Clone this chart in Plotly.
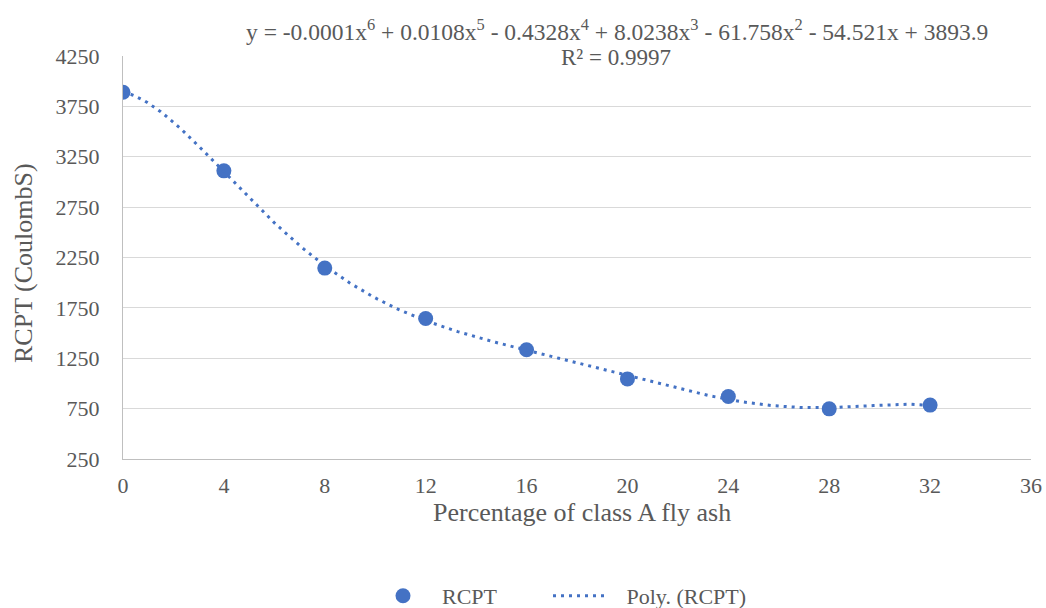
import numpy as np
import plotly.graph_objects as go

fly_ash_pct = [0, 4, 8, 12, 16, 20, 24, 28, 32]
rcpt = [3890, 3110, 2145, 1645, 1335, 1045, 870, 748, 785]
x_ticks = [0, 4, 8, 12, 16, 20, 24, 28, 32, 36]
y_ticks = [250, 750, 1250, 1750, 2250, 2750, 3250, 3750, 4250]

# 6th-order polynomial trendline fitted to the data (as Excel does)
coef = np.polyfit(fly_ash_pct, rcpt, 6)
xs = np.linspace(min(fly_ash_pct), max(fly_ash_pct), 300)
ys = np.polyval(coef, xs)

blue = "#4472C4"
gray = "#595959"
font = "Liberation Serif, Times New Roman, serif"

fig = go.Figure()
fig.add_trace(go.Scatter(x=fly_ash_pct, y=rcpt, mode="markers", name="RCPT",
                         marker=dict(color=blue, size=15), legend="legend"))
fig.add_trace(go.Scatter(x=xs, y=ys, mode="lines", name="&nbsp;&nbsp;&nbsp;Poly. (RCPT)",
                         line=dict(color=blue, width=3, dash="3px,5px"), legend="legend2"))

L, R, T, B = 123, 15, 56, 149
PH = 403.0  # plot height in px
PW = 908.0  # plot width in px

leg_y = -(596 - 459) / PH

fig.update_layout(
    width=1046, height=608,
    paper_bgcolor="white", plot_bgcolor="white",
    margin=dict(l=L, r=R, t=T, b=B, autoexpand=False),
    font=dict(family=font, size=22, color=gray),
    showlegend=True,
    legend=dict(orientation="h", x=(364 - 123) / PW, xanchor="left", y=leg_y,
                yanchor="middle", itemwidth=68, bgcolor="rgba(0,0,0,0)",
                font=dict(size=22, color=gray, family=font)),
    legend2=dict(orientation="h", x=(548 - 123) / PW, xanchor="left", y=leg_y,
                 yanchor="middle", itemwidth=52, bgcolor="rgba(0,0,0,0)",
                 font=dict(size=22, color=gray, family=font)),
    xaxis=dict(range=[0, 36], tickvals=x_ticks, showgrid=False, zeroline=False,
               showline=True, linecolor="#bfbfbf", linewidth=1, automargin=False,
               ticks="", ticklabelstandoff=7,
               tickfont=dict(size=22, color=gray, family=font)),
    yaxis=dict(range=[250, 4250], tickvals=y_ticks, showgrid=True, gridcolor="#d9d9d9",
               gridwidth=1, zeroline=False, showline=True, linecolor="#bfbfbf",
               linewidth=1, automargin=False, ticks="", ticklabelstandoff=18,
               tickfont=dict(size=22, color=gray, family=font)),
    annotations=[
        dict(text="y = -0.0001x<sup>6</sup> + 0.0108x<sup>5</sup> - 0.4328x<sup>4</sup> + 8.0238x<sup>3</sup> - 61.758x<sup>2</sup> - 54.521x + 3893.9",
             xref="paper", yref="paper", x=(617 - 123) / PW, y=1 + (56 - 30) / PH,
             xanchor="center", yanchor="middle", showarrow=False,
             font=dict(size=23.5, color=gray, family=font)),
        dict(text="R² = 0.9997",
             xref="paper", yref="paper", x=(616 - 123) / PW, y=1 + (56 - 57) / PH,
             xanchor="center", yanchor="middle", showarrow=False,
             font=dict(size=23, color=gray, family=font)),
        dict(text="Percentage of class A fly ash",
             xref="paper", yref="paper", x=(582 - 123) / PW, y=-(512 - 459) / PH,
             xanchor="center", yanchor="middle", showarrow=False,
             font=dict(size=26, color=gray, family=font)),
        dict(text="RCPT (CoulombS)", textangle=-90,
             xref="paper", yref="paper", x=-(123 - 23) / PW, y=(459 - 263) / PH,
             xanchor="center", yanchor="middle", showarrow=False,
             font=dict(size=26, color=gray, family=font)),
    ],
)

fig.write_html(
    "out.html",
    config={"displayModeBar": False},
    post_script="document.body.style.margin='0';document.body.style.overflow='hidden';"
                "document.documentElement.style.overflow='hidden';",
)
